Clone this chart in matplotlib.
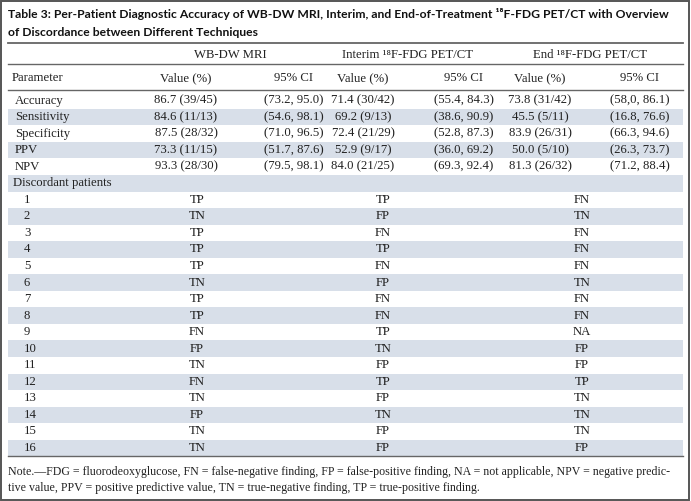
import matplotlib.pyplot as plt
from matplotlib.patches import Rectangle

# table content
title_lines = ["Table 3: Per-Patient Diagnostic Accuracy of WB-DW MRI, Interim, and End-of-Treatment \u00b9\u2078F-FDG PET/CT with Overview",
               "of Discordance between Different Techniques"]
groups = ["WB-DW MRI", "Interim \u00b9\u2078F-FDG PET/CT", "End \u00b9\u2078F-FDG PET/CT"]
col_headers = ["Parameter", "Value (%)", "95% CI", "Value (%)", "95% CI", "Value (%)", "95% CI"]

params = ["Accuracy", "Sensitivity", "Specificity", "PPV", "NPV"]
wb_value = ["86.7 (39/45)", "84.6 (11/13)", "87.5 (28/32)", "73.3 (11/15)", "93.3 (28/30)"]
wb_ci = ["(73.2, 95.0)", "(54.6, 98.1)", "(71.0, 96.5)", "(51.7, 87.6)", "(79.5, 98.1)"]
int_value = ["71.4 (30/42)", "69.2 (9/13)", "72.4 (21/29)", "52.9 (9/17)", "84.0 (21/25)"]
int_ci = ["(55.4, 84.3)", "(38.6, 90.9)", "(52.8, 87.3)", "(36.0, 69.2)", "(69.3, 92.4)"]
end_value = ["73.8 (31/42)", "45.5 (5/11)", "83.9 (26/31)", "50.0 (5/10)", "81.3 (26/32)"]
end_ci = ["(58,0, 86.1)", "(16.8, 76.6)", "(66.3, 94.6)", "(26.3, 73.7)", "(71.2, 88.4)"]

patients = [str(i) for i in range(1, 17)]
wb_disc = ["TP", "TN", "TP", "TP", "TP", "TN", "TP", "TP", "FN", "FP", "TN", "FN", "TN", "FP", "TN", "TN"]
int_disc = ["TP", "FP", "FN", "TP", "FN", "FP", "FN", "FN", "TP", "TN", "FP", "TP", "FP", "TN", "FP", "FP"]
end_disc = ["FN", "TN", "FN", "FN", "FN", "TN", "FN", "FN", "NA", "FP", "FP", "TP", "TN", "TN", "TN", "FP"]

note_lines = ["Note.\u2014FDG = fluorodeoxyglucose, FN = false-negative finding, FP = false-positive finding, NA = not applicable, NPV = negative predic-",
              "tive value, PPV = positive predictive value, TN = true-negative finding, TP = true-positive finding."]

# layout (pixels)
W, H = 691, 501
serif = ["Liberation Serif", "DejaVu Serif"]
bold_sans = ["Lato", "DejaVu Sans"]
fs = 9.2
txt = "#222222"
shade = "#d8dfe9"
rule = "#666666"

col_x = [12, 186, 294, 363, 464, 540, 640]
group_x = [230, 408, 590]
disc_x = [197, 383, 582]
row0, step = 100.5, 16.55

fig = plt.figure(figsize=(W / 100, H / 100), dpi=100)
ax = fig.add_axes([0, 0, 1, 1])
ax.set_xlim(0, W)
ax.set_ylim(H, 0)
ax.axis("off")

# outer border
ax.add_patch(Rectangle((1, 1), W - 2.5, H - 2.5, fill=False, ec="#555555", lw=1.4))

# title
for i, t in enumerate(title_lines):
    ax.text(8, 14 + i * 18, t, family=bold_sans, weight="bold", fontsize=8.75,
            color="#111111", va="center", ha="left")

# rules
ax.plot([8, 683], [43, 43], color=rule, lw=1.3)
ax.plot([8, 683], [64, 64], color=rule, lw=1.0)
ax.plot([8, 683], [90, 90], color=rule, lw=1.0)

# group headers + column headers
for gx, g in zip(group_x, groups):
    ax.text(gx, 55, g, family=serif, fontsize=fs, color=txt, ha="center", va="center")
for j, h in enumerate(col_headers):
    ax.text(col_x[j], 78, h, family=serif, fontsize=fs, color=txt,
            ha="left" if j == 0 else "center", va="center")

# body rows
body = []
for k in range(len(params)):
    body.append(("stat", [params[k], wb_value[k], wb_ci[k], int_value[k], int_ci[k], end_value[k], end_ci[k]]))
body.append(("label", ["Discordant patients"]))
for k in range(len(patients)):
    body.append(("disc", [patients[k], wb_disc[k], int_disc[k], end_disc[k]]))

for r, (kind, cells) in enumerate(body):
    y = row0 + r * step
    if r % 2 == 1:
        ax.add_patch(Rectangle((8, y - step / 2), 675, step, color=shade, lw=0, zorder=0))
    if kind == "stat":
        for j, c in enumerate(cells):
            ax.text(col_x[j] + (3 if j == 0 else 0), y, c, family=serif, fontsize=fs, color=txt,
                    ha="left" if j == 0 else "center", va="center")
    elif kind == "label":
        ax.text(col_x[0] + 1, y, cells[0], family=serif, fontsize=fs, color=txt, va="center")
    else:
        ax.text(col_x[0] + 12, y, cells[0], family=serif, fontsize=fs, color=txt, va="center")
        for j, c in enumerate(cells[1:]):
            ax.text(disc_x[j], y, c, family=serif, fontsize=fs, color=txt, ha="center", va="center")

y_end = row0 + (len(body) - 0.5) * step
ax.plot([8, 683], [y_end, y_end], color=rule, lw=1.0)

# note
for i, t in enumerate(note_lines):
    ax.text(8, 472 + i * 16, t, family=serif, fontsize=8.6, color=txt, va="center")

fig.savefig("out.png", dpi=100)
